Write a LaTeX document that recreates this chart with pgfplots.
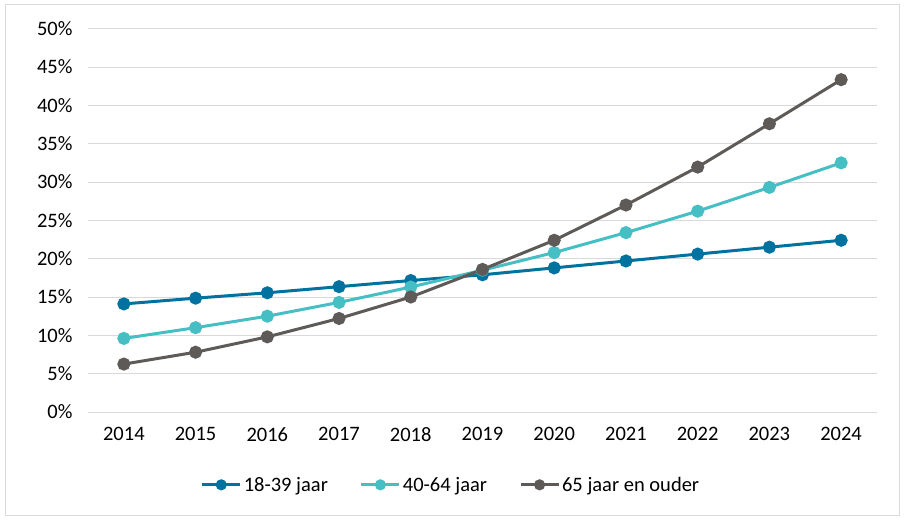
\documentclass[border=0pt]{standalone}
\usepackage{fontspec}
\setmainfont{Carlito}
\usepackage{pgfplots}
\pgfplotsset{compat=1.18}
\definecolor{cblue}{RGB}{0,114,160}
\definecolor{ccyan}{RGB}{69,191,196}
\definecolor{cgray}{RGB}{94,90,88}
\definecolor{cgrid}{RGB}{217,217,217}
\begin{document}
\begin{tikzpicture}[font=\fontsize{20.5}{24}\selectfont]
\useasboundingbox (0,0) rectangle (905pt,520pt);
\draw[cgrid, line width=1pt] (5pt,5pt) rectangle (899pt,515pt);
\begin{axis}[
  at={(88pt,108pt)}, anchor=south west,
  scale only axis, width=789pt, height=383.3pt,
  xmin=2013.5, xmax=2024.5, ymin=0, ymax=50,
  xtick={2014,...,2024}, ytick={0,5,...,50},
  xticklabel style={/pgf/number format/1000 sep={}},
  /pgf/number format/assume math mode=true,
  yticklabel={\pgfmathprintnumber{\tick}\%},
  ymajorgrids, grid style={cgrid, line width=1pt},
  axis line style={draw=none},
  major tick length=0pt,
  ytick style={draw=none}, xtick style={draw=none},
  yticklabel style={xshift=-12pt},
  xticklabel style={yshift=-12pt},
  clip=false,
  every axis plot/.append style={line width=3pt, mark=*, mark size=5pt},
  legend style={draw=none, at={(0.46,-0.19)}, anchor=center,
    legend columns=3, /tikz/every even column/.append style={column sep=30pt},
    font=\fontsize{20.5}{24}\selectfont},
  legend image code/.code={\draw[#1, mark repeat=2, mark phase=2, mark size=4pt] plot coordinates {(0pt,0pt) (19pt,0pt) (38pt,0pt)};},
]
\addplot[cblue, mark options={fill=cblue, draw=cblue}] coordinates {
(2014,14.1) (2015,14.85) (2016,15.55) (2017,16.35) (2018,17.15) (2019,17.9)
(2020,18.8) (2021,19.7) (2022,20.6) (2023,21.5) (2024,22.4)};
\addlegendentry{18-39 jaar}
\addplot[ccyan, mark options={fill=ccyan, draw=ccyan}] coordinates {
(2014,9.6) (2015,11.0) (2016,12.5) (2017,14.3) (2018,16.3) (2019,18.5)
(2020,20.8) (2021,23.4) (2022,26.2) (2023,29.3) (2024,32.5)};
\addlegendentry{40-64 jaar}
\addplot[cgray, mark options={fill=cgray, draw=cgray}] coordinates {
(2014,6.25) (2015,7.8) (2016,9.8) (2017,12.2) (2018,15.0) (2019,18.6)
(2020,22.4) (2021,27.0) (2022,31.95) (2023,37.6) (2024,43.35)};
\addlegendentry{65 jaar en ouder}
\end{axis}
\end{tikzpicture}
\end{document}
